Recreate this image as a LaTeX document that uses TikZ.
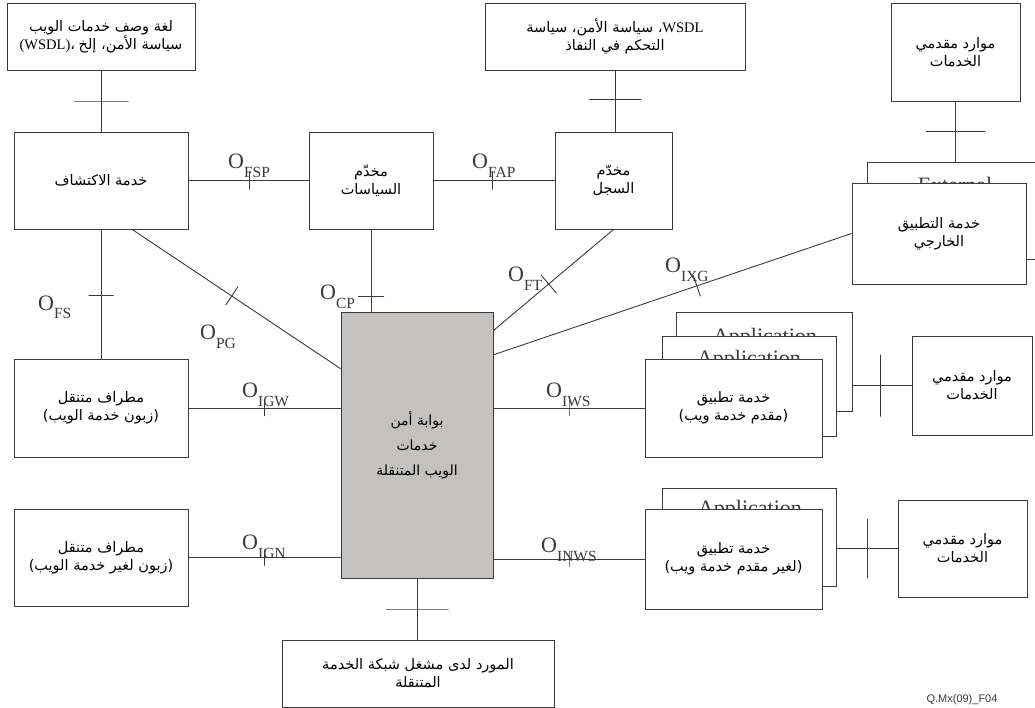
\documentclass[tikz,border=0pt]{standalone}
\usepackage{fontspec}
\usetikzlibrary{calc}
\TeXXeTstate=1
\setmainfont{Liberation Serif}
\newfontfamily\arabicfont[Script=Arabic]{DejaVu Sans}
\newfontfamily\latinfont{Liberation Serif}
\newfontfamily\idfont{Liberation Sans}
% one right-to-left line of Arabic
\newcommand{\ar}[1]{{\arabicfont\beginR #1\endR}}
% interface reference point label: O with a subscript
\newcommand{\olab}[1]{{\fontsize{22}{22}\selectfont O}\raisebox{-9pt}{\fontsize{15.5}{15.5}\selectfont #1}}
\definecolor{ink}{HTML}{3A3A3A}
\definecolor{gwgray}{HTML}{C3C2C0}
\begin{document}
\begin{tikzpicture}[x=1pt,y=-1pt,
  bx/.style={draw=ink, line width=0.9pt, fill=white, inner sep=1pt, align=center,
    font=\fontsize{14.5}{18}\selectfont},
  sz/.style 2 args={minimum width=#1pt, minimum height=#2pt},
  conn/.style={draw=ink, line width=0.9pt},
  brk/.style={sloped, draw=ink, line width=0.9pt, shape=rectangle, minimum width=0pt,
    minimum height=#1, inner sep=0pt, outer sep=0pt},
  lab/.style={anchor=base west, inner sep=0pt, text=ink},
  ghost/.style={anchor=north, inner sep=0pt, text=ink, font=\latinfont\fontsize{22}{22}\selectfont}]
\useasboundingbox (0,0) rectangle (1035,708);
\clip (0,0) rectangle (1035,708);

% ---- top row: descriptions and resources
\node[bx, sz={188}{67}] (wsdl) at (101,36.5)
  {\ar{لغة وصف خدمات الويب}\\{\latinfont (WSDL)}{\arabicfont ،} \ar{سياسة الأمن، إلخ}};
\node[bx, sz={260}{67}] (pol2) at (615,36.5)
  {\ar{\beginL{\latinfont WSDL}\endL، سياسة الأمن، سياسة}\\\ar{التحكم في النفاذ}};
\node[bx, sz={129}{98}] (res1) at (955.5,52) {\ar{موارد مقدمي}\\\ar{الخدمات}};

% ---- second row: servers
\node[bx, sz={174}{97}] (disc) at (101,180.5) {\ar{خدمة الاكتشاف}};
\node[bx, sz={124}{97}] (polsrv) at (371,180.5) {\ar{مخدّم}\\\ar{السياسات}};
\node[bx, sz={117}{97}] (reg) at (613.5,180.5) {\ar{مخدّم}\\\ar{السجل}};

% external application service (stacked)
\node[bx, sz={178}{97}] (extback) at (956,210.5) {};
\node[ghost] (extghost) at (955,177) {External};
\node[bx, sz={174}{101}] (extfront) at (939,233.5) {\ar{خدمة التطبيق}\\\ar{الخارجي}};

% ---- gateway
\node[bx, sz={152}{266}, fill=gwgray, font=\fontsize{14}{25}\selectfont] (gw) at (417,445)
  {\ar{بوابة أمن}\\\ar{خدمات}\\\ar{الويب المتنقلة}};

% ---- mobile terminals
\node[bx, sz={174}{98}] (mtw) at (101,408) {\ar{مطراف متنقل}\\\ar{(زبون خدمة الويب)}};
\node[bx, sz={174}{97}] (mtn) at (101,557.5) {\ar{مطراف متنقل}\\\ar{(زبون لغير خدمة الويب)}};

% ---- operator resource
\node[bx, sz={272}{67}] (opr) at (418,673.5) {\ar{المورد لدى مشغل شبكة الخدمة}\\\ar{المتنقلة}};

% ---- web-service application stack
\node[bx, sz={176}{99}] (wsback1) at (764,361.5) {};
\node[ghost] (wsghost1) at (765,328) {Application};
\node[bx, sz={174}{100}] (wsback2) at (749,386) {};
\node[ghost] (wsghost2) at (749,350) {Application};
\node[bx, sz={177}{98}] (wsfront) at (733.5,408) {\ar{خدمة تطبيق}\\\ar{(مقدم خدمة ويب)}};
\node[bx, sz={120}{99}] (res2) at (972,385.5) {\ar{موارد مقدمي}\\\ar{الخدمات}};

% ---- non-web-service application stack
\node[bx, sz={174}{98}] (nback) at (749,537) {};
\node[ghost] (nghost) at (750,500) {Application};
\node[bx, sz={177}{100}] (nfront) at (733.5,559) {\ar{خدمة تطبيق}\\\ar{(لغير مقدم خدمة ويب)}};
\node[bx, sz={129}{97}] (res3) at (962.5,548.5) {\ar{موارد مقدمي}\\\ar{الخدمات}};

% ---- connectors with reference-point bars
\draw[conn] (wsdl.south) -- node[brk=55pt, pos=0.5] (k1) {} (disc.north);
\draw[conn] (pol2.south) -- node[brk=52pt, pos=0.48] (k2) {} (pol2.south |- reg.north);
\draw[conn] (res1.south) -- node[brk=59pt, pos=0.5] (k3) {} (res1.south |- extback.north);
\draw[conn] (disc.east) -- node[brk=18pt, pos=0.51] (k4) {} (polsrv.west);
\draw[conn] (polsrv.east) -- node[brk=18pt, pos=0.49] (k5) {} (reg.west);
\draw[conn] (polsrv.south) -- node[brk=26pt, pos=0.82] (k6) {} (polsrv.south |- gw.north);
\draw[conn] (disc.south) -- node[brk=25pt, pos=0.51] (k7) {} (mtw.north);
\draw[conn] ($(disc.south west)!0.678!(disc.south east)$) -- node[brk=22pt, pos=0.478] (k8) {}
  ($(gw.north west)!0.214!(gw.south west)$);
\draw[conn] (reg.south) -- node[brk=24pt, pos=0.54] (k9) {} ($(gw.north east)!0.071!(gw.south east)$);
\draw[conn] ($(gw.north east)!0.162!(gw.south east)$) -- node[brk=22pt, pos=0.568] (k10) {} (extfront.west);
\draw[conn] (mtw.east) -- node[brk=16pt, pos=0.5] (k11) {} (mtw.east -| gw.west);
\draw[conn] (mtn.east) -- node[brk=16pt, pos=0.5] (k12) {} (mtn.east -| gw.west);
\draw[conn] (wsfront.west -| gw.east) -- node[brk=16pt, pos=0.5] (k13) {} (wsfront.west);
\draw[conn] (nfront.west -| gw.east) -- node[brk=16pt, pos=0.5] (k14) {} (nfront.west);
\draw[conn] (res2.west -| wsback1.east) -- node[brk=62pt, pos=0.48] (k15) {} (res2.west);
\draw[conn] (res3.west -| nback.east) -- node[brk=59pt, pos=0.5] (k16) {} (res3.west);
\draw[conn] (gw.south) -- node[brk=63pt, pos=0.5] (k17) {} (gw.south |- opr.north);

% ---- reference-point labels
\node[lab] (lFSP) at (228,169) {\olab{FSP}};
\node[lab] (lFAP) at (472,169) {\olab{FAP}};
\node[lab] (lCP) at (320,300) {\olab{CP}};
\node[lab] (lFT) at (508,282) {\olab{FT}};
\node[lab] (lIXG) at (665,273) {\olab{IXG}};
\node[lab] (lFS) at (38,310) {\olab{FS}};
\node[lab] (lPG) at (200,339) {\olab{PG}};
\node[lab] (lIGW) at (242,397) {\olab{IGW}};
\node[lab] (lIGN) at (242,549) {\olab{IGN}};
\node[lab] (lIWS) at (546,397) {\olab{IWS}};
\node[lab] (lINWS) at (541,552) {\olab{INWS}};

% figure identifier
\node[anchor=north, inner sep=0pt, text=ink, font=\idfont\fontsize{11}{11}\selectfont] (figid) at (962,694) {Q.Mx(09)\_F04};
\end{tikzpicture}
\end{document}
